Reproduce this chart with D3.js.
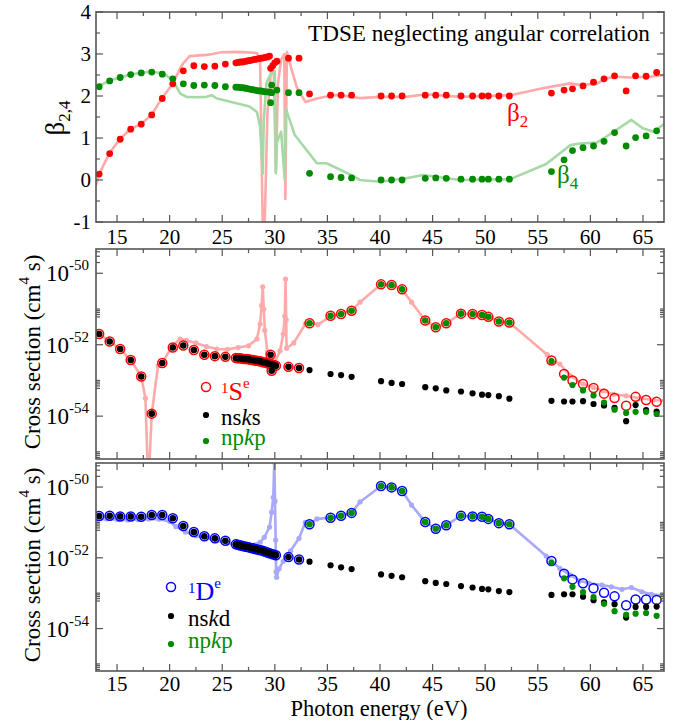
<!DOCTYPE html>
<html><head><meta charset="utf-8">
<script src="https://cdn.jsdelivr.net/npm/d3@7"></script>
<style>body{margin:0;background:#fff}svg{display:block}text{font-family:"Liberation Serif","Times New Roman",serif}</style>
</head><body><svg id="c" width="689" height="720" font-family="Liberation Serif, Times New Roman, serif"></svg>
<script>
// ---------------- DATA ----------------
const xMajorTicks = [15,20,25,30,35,40,45,50,55,60,65];
const betaTicks = [-1,0,1,2,3,4];
const logLabelExps = [-50,-52,-54];

// top panel: beta2 (red) and beta4 (green) points  [energy eV, beta]
const beta2Dots = [[13.3,0.14],[14.3,0.63],[15.3,0.97],[16.3,1.21],[17.3,1.33],[18.3,1.55],[19.3,1.94],[20.3,2.29],[21.3,2.60],[22.3,2.72],[23.3,2.70],[24.3,2.71],[25.3,2.76],
[26.3,2.79],[26.5,2.80],[26.7,2.81],[26.9,2.81],[27.1,2.82],[27.3,2.83],[27.5,2.84],[27.7,2.85],[27.9,2.86],[28.1,2.87],[28.3,2.88],[28.5,2.89],[28.7,2.90],[28.9,2.91],[29.1,2.92],[29.3,2.93],[29.5,2.95],
[29.6,2.66],[29.8,2.72],[30.0,2.79],[30.2,2.83],
[31.3,2.90],[32.3,2.90],[33.3,2.05],[35.3,2.02],[36.3,2.02],[37.3,2.02],[40.1,2.00],[41.1,2.00],[42.1,2.00],[44.3,2.02],[45.3,2.02],[46.3,2.02],[47.7,2.00],[48.8,2.00],[49.7,2.00],[50.3,2.00],[51.3,2.00],[52.3,2.00],
[56.3,2.07],[57.5,2.14],[58.3,2.17],[59.3,2.24],[60.3,2.33],[61.3,2.41],[62.3,2.48],[63.4,2.12],[64.3,2.48],[65.3,2.47],[66.3,2.56]];
const beta4Dots = [[13.3,2.22],[14.3,2.36],[15.3,2.44],[16.3,2.51],[17.3,2.55],[18.3,2.57],[19.3,2.52],[20.3,2.41],[21.3,2.29],[22.3,2.25],[23.3,2.26],[24.3,2.25],[25.3,2.22],
[26.3,2.21],[26.5,2.21],[26.7,2.20],[26.9,2.20],[27.1,2.19],[27.3,2.18],[27.5,2.17],[27.7,2.16],[27.9,2.15],[28.1,2.14],[28.3,2.13],[28.5,2.12],[28.7,2.12],[28.9,2.11],[29.1,2.10],[29.3,2.10],[29.5,2.09],[29.7,2.08],
[29.6,1.84],[29.7,2.26],[30.2,2.14],
[31.3,2.08],[32.3,2.08],[33.3,0.16],[35.3,0.08],[36.3,0.06],[37.3,0.05],[40.1,0.00],[41.1,0.00],[42.1,0.00],[44.3,0.04],[45.3,0.05],[46.3,0.04],[47.7,0.02],[48.8,0.02],[49.7,0.02],[50.3,0.02],[51.3,0.02],[52.3,0.02],
[56.3,0.20],[57.5,0.48],[58.3,0.70],[59.3,0.77],[60.3,0.81],[61.3,0.92],[62.3,1.13],[63.4,0.81],[64.3,1.01],[65.3,1.05],[66.3,1.17]];
const beta2Curve = [[13.0,-0.12],[13.3,0.14],[14.3,0.65],[15.3,0.98],[16.3,1.22],[17.3,1.33],[18.3,1.56],[19.3,1.96],[20.3,2.29],[21.0,2.66],[21.3,2.78],[21.9,2.95],[23.5,2.98],[24.1,3.00],[24.9,3.04],[26.5,3.05],[28.0,3.03],[28.3,3.02],[28.6,2.86],[28.88,-1.6],[28.98,-1.6],[29.3,1.6],[29.6,2.5],[29.9,2.6],[30.1,0.2],[30.3,2.3],[30.6,2.86],[30.9,3.0],[31.0,-0.45],[31.15,3.05],[31.4,2.8],[32.1,2.2],[32.9,1.86],[34.0,1.94],[35.5,2.02],[36.2,2.02],[38.1,1.95],[40.0,1.98],[42.5,1.98],[44.4,2.04],[47.6,1.98],[52.4,2.02],[55.8,2.20],[58.1,2.30],[59.0,2.26],[60.6,2.29],[61.5,2.42],[62.5,2.46],[63.8,2.44],[65.7,2.46],[67.0,2.50]];
const beta4Curve = [[13.0,2.20],[14.3,2.37],[15.3,2.44],[16.3,2.51],[17.3,2.55],[18.1,2.58],[19.4,2.54],[20.3,2.38],[21.0,2.06],[21.6,1.98],[22.6,1.97],[23.5,1.98],[24.0,2.02],[24.5,1.94],[27.6,1.75],[28.3,1.62],[28.6,1.27],[28.85,0.15],[28.95,1.4],[29.2,2.3],[29.7,2.58],[30.0,2.58],[30.1,0.16],[30.2,0.9],[30.6,1.15],[30.95,0.0],[31.05,1.7],[31.9,1.07],[34.0,0.40],[34.9,0.40],[37.1,0.14],[38.1,0.00],[40.0,-0.04],[42.5,0.04],[44.1,0.12],[47.6,0.00],[52.4,0.02],[55.8,0.38],[58.1,0.83],[59.0,0.87],[60.6,0.89],[61.5,1.03],[63.9,1.43],[65.0,1.23],[66.0,1.15],[67.0,1.33]];

// middle panel (1Se), log10 of cross section (cm^4 s)
const seNsks = [[13.3,-51.70],[14.3,-51.91],[15.3,-52.12],[16.3,-52.43],[17.3,-52.89],[18.3,-53.93],[19.3,-52.51],[20.3,-52.08],[21.3,-52.02],[22.3,-52.15],[23.3,-52.28],[24.3,-52.32],[25.3,-52.34],
[26.3,-52.37],[26.5,-52.38],[26.7,-52.38],[26.9,-52.39],[27.1,-52.40],[27.3,-52.40],[27.5,-52.41],[27.7,-52.42],[27.9,-52.43],[28.1,-52.44],[28.3,-52.45],[28.5,-52.46],[28.7,-52.47],[28.9,-52.49],[29.1,-52.50],[29.3,-52.52],[29.5,-52.54],[29.7,-52.55],[29.9,-52.57],
[29.6,-52.28],[29.7,-52.73],[30.1,-52.59],[31.3,-52.62],[32.3,-52.65],
[33.3,-52.71],[35.3,-52.82],[36.3,-52.85],[37.3,-52.90],[40.1,-53.02],[41.1,-53.07],[42.1,-53.10],[44.3,-53.19],[45.3,-53.22],[46.3,-53.28],[47.7,-53.31],[48.8,-53.36],[49.7,-53.40],[50.3,-53.41],[51.3,-53.44],[52.3,-53.51],
[56.3,-53.57],[57.5,-53.59],[58.3,-53.59],[59.3,-53.58],[60.3,-53.66],[61.3,-53.70],[62.3,-53.77],[63.4,-54.14],[64.3,-53.69],[65.3,-53.83],[66.3,-53.87]];
const seNpkp = [[33.3,-51.40],[35.3,-51.19],[36.3,-51.14],[37.3,-51.05],[40.1,-50.31],[41.1,-50.33],[42.1,-50.45],[44.3,-51.32],[45.3,-51.51],[46.3,-51.40],[47.7,-51.13],[48.8,-51.14],[49.7,-51.17],[50.3,-51.22],[51.3,-51.35],[52.3,-51.38],
[56.3,-52.46],[57.5,-52.92],[58.3,-53.13],[59.3,-53.28],[60.3,-53.42],[61.3,-53.62],[62.3,-53.82],[63.4,-53.91],[64.3,-53.88],[65.3,-53.88],[66.3,-53.94]];
const seTotalTail = [[56.3,-52.44],[57.5,-52.82],[58.3,-53.00],[59.3,-53.10],[60.3,-53.21],[61.3,-53.37],[62.3,-53.49],[63.4,-53.71],[64.3,-53.46],[65.3,-53.55],[66.3,-53.60]];
const seCurve = [[13.0,-51.65],[13.3,-51.70],[14.3,-51.91],[15.3,-52.12],[16.3,-52.43],[17.3,-52.89],[17.7,-53.5],[17.97,-56.0],[18.3,-53.93],[18.9,-52.59],[19.3,-52.51],[20.3,-52.02],[21.0,-51.84],[21.6,-51.88],[22.5,-51.95],[23.5,-52.05],[24.5,-52.12],[25.5,-52.13],[26.5,-52.08],[27.5,-52.03],[28.3,-51.84],[28.6,-51.42],[28.75,-50.9],[28.85,-50.38],[28.95,-51.0],[29.05,-51.6],[29.3,-52.2],[29.6,-52.45],[30.0,-52.50],[30.5,-52.17],[30.8,-51.70],[30.95,-51.2],[31.02,-50.16],[31.08,-51.3],[31.12,-52.1],[31.8,-51.95],[32.9,-51.42],[33.3,-51.38],[34.1,-51.44],[35.3,-51.20],[36.3,-51.12],[37.3,-51.05],[38.1,-50.81],[40.1,-50.31],[41.1,-50.33],[42.1,-50.45],[43.0,-50.81],[44.3,-51.32],[45.3,-51.51],[46.3,-51.40],[47.7,-51.13],[48.8,-51.14],[49.7,-51.17],[50.3,-51.22],[51.3,-51.35],[52.3,-51.38],[55.9,-52.28],[56.3,-52.44],[57.1,-52.54],[58.1,-52.87],[59.3,-53.10],[60.3,-53.20],[61.2,-53.29],[62.2,-53.39],[63.4,-53.43],[64.7,-53.50],[66.0,-53.55],[67.1,-53.57]];

// bottom panel (1De), log10 of cross section (cm^4 s)
const deNskd = [[13.3,-50.82],[14.3,-50.81],[15.3,-50.83],[16.3,-50.83],[17.3,-50.84],[18.3,-50.79],[19.3,-50.79],[20.3,-50.88],[21.3,-51.10],[22.3,-51.27],[23.3,-51.39],[24.3,-51.45],[25.3,-51.52],
[26.3,-51.62],[26.5,-51.63],[26.7,-51.65],[26.9,-51.66],[27.1,-51.68],[27.3,-51.69],[27.5,-51.70],[27.7,-51.72],[27.9,-51.73],[28.1,-51.75],[28.3,-51.76],[28.5,-51.78],[28.7,-51.79],[28.9,-51.81],[29.1,-51.83],[29.3,-51.85],[29.5,-51.87],[29.7,-51.89],[29.9,-51.91],[30.1,-51.93],
[31.3,-51.98],[32.3,-52.05],
[33.3,-52.11],[35.3,-52.21],[36.3,-52.27],[37.3,-52.32],[40.1,-52.47],[41.1,-52.51],[42.1,-52.55],[44.3,-52.66],[45.3,-52.71],[46.3,-52.74],[47.7,-52.80],[48.8,-52.84],[49.7,-52.88],[50.3,-52.89],[51.3,-52.94],[52.3,-52.97],
[56.3,-53.05],[57.5,-53.03],[58.3,-53.03],[59.3,-53.10],[60.3,-53.20],[61.3,-53.26],[62.3,-53.31],[63.4,-53.69],[64.3,-53.39],[65.3,-53.39],[66.3,-53.38]];
const deNpkp = [[33.3,-51.05],[35.3,-50.87],[36.3,-50.81],[37.3,-50.73],[40.1,-49.97],[41.1,-50.01],[42.1,-50.11],[44.3,-50.99],[45.3,-51.18],[46.3,-51.08],[47.7,-50.81],[48.8,-50.83],[49.7,-50.84],[50.3,-50.90],[51.3,-51.02],[52.3,-51.05],
[56.3,-52.14],[57.5,-52.58],[58.3,-52.82],[59.3,-52.97],[60.3,-53.11],[61.3,-53.30],[62.3,-53.51],[63.4,-53.61],[64.3,-53.58],[65.3,-53.56],[66.3,-53.64]];
const deTotalTail = [[56.3,-52.09],[57.5,-52.45],[58.3,-52.61],[59.3,-52.72],[60.3,-52.86],[61.3,-52.99],[62.3,-53.09],[63.4,-53.34],[64.3,-53.18],[65.3,-53.18],[66.3,-53.19]];
const deCurve = [[13.0,-50.92],[14.0,-50.90],[15.0,-50.92],[16.0,-50.93],[17.0,-50.92],[18.0,-50.90],[19.0,-50.91],[20.0,-50.97],[20.6,-51.12],[21.5,-51.27],[22.5,-51.38],[23.5,-51.45],[24.5,-51.52],[25.5,-51.58],[26.5,-51.64],[27.6,-51.65],[28.6,-51.56],[29.0,-51.42],[29.5,-51.13],[29.7,-50.71],[29.85,-50.29],[29.95,-49.3],[30.02,-50.4],[30.08,-51.5],[30.12,-52.40],[30.17,-52.55],[30.4,-52.31],[30.8,-52.10],[31.5,-51.80],[32.3,-51.45],[32.9,-51.00],[33.3,-51.05],[34.0,-50.90],[35.3,-50.87],[36.3,-50.81],[37.3,-50.73],[38.1,-50.42],[40.1,-49.97],[41.1,-50.01],[42.1,-50.11],[43.0,-50.51],[44.3,-50.99],[45.3,-51.18],[46.3,-51.08],[47.7,-50.81],[48.8,-50.83],[49.7,-50.84],[50.3,-50.90],[51.3,-51.02],[52.3,-51.05],[55.8,-51.95],[56.3,-52.09],[57.1,-52.30],[58.1,-52.49],[59.0,-52.65],[59.9,-52.72],[61.1,-52.77],[62.0,-52.82],[63.0,-52.89],[63.9,-52.84],[64.9,-52.96],[65.8,-53.03],[67.1,-53.07]];

// ---------------- DRAW ----------------
const svg = d3.select("#c");
const RED="#ff0000", GREEN="#008b00", BLUE="#0000ff";
const PRED="#ffaaaa", PGREEN="#a6d9a6", PBLUE="#a9a9fa";
const FRAME="#555";
const L=96, R=664;
const x = d3.scaleLinear().domain([13,67]).range([L,R]);
const logDom = [Math.pow(10,-55.2), Math.pow(10,-49.32)];
const P1 = {top:12, bottom:222, y:d3.scaleLinear().domain([-1,4]).range([222,12])};
const P2 = {top:249, bottom:459, y:d3.scaleLog().domain(logDom).range([459,249])};
const P3 = {top:463, bottom:671, y:d3.scaleLog().domain(logDom).range([671,463])};
const pw = v => Math.pow(10,v);

[P1,P2,P3].forEach((p,i)=>{
  svg.append("clipPath").attr("id","clip"+i).append("rect")
    .attr("x",L).attr("y",p.top).attr("width",R-L).attr("height",p.bottom-p.top);
  p.g = svg.append("g").attr("clip-path","url(#clip"+i+")");
});

function curve(p, data, color, isLog, markers){
  const line = d3.line().x(d=>x(d[0])).y(d=>p.y(isLog?pw(d[1]):d[1]));
  p.g.append("path").datum(data).attr("d",line).attr("fill","none")
    .attr("stroke",color).attr("stroke-width",2.6).attr("stroke-linejoin","round");
  if(markers){
    p.g.selectAll(null).data(data).enter().append("circle")
      .attr("cx",d=>x(d[0])).attr("cy",d=>p.y(pw(d[1]))).attr("r",2.6).attr("fill",color);
  }
}
function dots(p, data, color, r, isLog){
  p.g.selectAll(null).data(data).enter().append("circle")
    .attr("cx",d=>x(d[0])).attr("cy",d=>p.y(isLog?pw(d[1]):d[1])).attr("r",r).attr("fill",color);
}
function rings(p, data, color){
  p.g.selectAll(null).data(data).enter().append("circle")
    .attr("cx",d=>x(d[0])).attr("cy",d=>p.y(pw(d[1]))).attr("r",4.5)
    .attr("fill","none").attr("stroke",color).attr("stroke-width",1.5);
}

// Panel 1
curve(P1, beta2Curve, PRED, false, false);
curve(P1, beta4Curve, PGREEN, false, false);
dots(P1, beta2Dots, RED, 3.4, false);
dots(P1, beta4Dots, GREEN, 3.4, false);

// Panel 2
curve(P2, seCurve, PRED, true, true);
const seRings = seNsks.filter(d=>d[0]<33).concat(seNpkp.filter(d=>d[0]<53), seTotalTail);
rings(P2, seRings, RED);
dots(P2, seNsks.filter(d=>d[0]<33), "#000", 3.3, true);
dots(P2, seNsks.filter(d=>d[0]>33), "#000", 3.1, true);
dots(P2, seNpkp.filter(d=>d[0]<53), GREEN, 3.3, true);
dots(P2, seNpkp.filter(d=>d[0]>53), GREEN, 3.1, true);

// Panel 3
curve(P3, deCurve, PBLUE, true, true);
const deRings = deNskd.filter(d=>d[0]<33).concat(deNpkp.filter(d=>d[0]<53), deTotalTail);
rings(P3, deRings, BLUE);
dots(P3, deNskd.filter(d=>d[0]<33), "#000", 3.3, true);
dots(P3, deNskd.filter(d=>d[0]>33), "#000", 3.1, true);
dots(P3, deNpkp.filter(d=>d[0]<53), GREEN, 3.3, true);
dots(P3, deNpkp.filter(d=>d[0]>53), GREEN, 3.1, true);

// Frames and ticks
const xMinor = xMajorTicks.map(v=>v+2.5).filter(v=>v<67);
function tick(g,x1,y1,x2,y2){ g.append("line").attr("x1",x1).attr("y1",y1).attr("x2",x2).attr("y2",y2).attr("stroke",FRAME).attr("stroke-width",1.2); }
function frame(p, yMajor, yMinor){
  const g = svg.append("g");
  g.append("rect").attr("x",L).attr("y",p.top).attr("width",R-L).attr("height",p.bottom-p.top)
    .attr("fill","none").attr("stroke",FRAME).attr("stroke-width",1.6);
  xMajorTicks.forEach(v=>{ tick(g,x(v),p.bottom,x(v),p.bottom-7); tick(g,x(v),p.top,x(v),p.top+7); });
  xMinor.forEach(v=>{ tick(g,x(v),p.bottom,x(v),p.bottom-4); tick(g,x(v),p.top,x(v),p.top+4); });
  yMajor.forEach(v=>{ const yy=p.y(v); tick(g,L,yy,L+7,yy); tick(g,R,yy,R-7,yy); });
  yMinor.forEach(v=>{ const yy=p.y(v); tick(g,L,yy,L+4,yy); tick(g,R,yy,R-4,yy); });
}
frame(P1, betaTicks, [-0.5,0.5,1.5,2.5,3.5]);
const logMajor = logLabelExps.map(pw);
const logMinor = [2e-50,3e-50,4e-50,6e-52,7e-52,8e-52,9e-52,1e-51,6e-54,7e-54,8e-54,9e-54,1e-53,7e-56,8e-56,9e-56,1e-55]
  .filter(v=>v>logDom[0]&&v<logDom[1]);
frame(P2, logMajor, logMinor);
frame(P3, logMajor, logMinor);

// Tick labels
const tl = svg.append("g").attr("font-size",21).attr("fill","#000");
xMajorTicks.forEach(v=>{
  tl.append("text").attr("x",x(v)).attr("y",244).attr("text-anchor","middle").text(v);
  tl.append("text").attr("x",x(v)).attr("y",691).attr("text-anchor","middle").text(v);
});
betaTicks.forEach(v=>{
  tl.append("text").attr("x",91).attr("y",P1.y(v)+7).attr("text-anchor","end").text(v);
});
[P2,P3].forEach(p=>{
  logLabelExps.forEach(e=>{
    const t = svg.append("text").attr("x",89).attr("y",p.y(pw(e))+8).attr("text-anchor","end").attr("font-size",23);
    t.append("tspan").text("10");
    t.append("tspan").attr("font-size",15).attr("dy",-11).text(e);
  });
});

// Axis titles
const bt = svg.append("text").attr("transform","translate(64,118) rotate(-90)").attr("text-anchor","middle").attr("font-size",27);
bt.append("tspan").text("β");
bt.append("tspan").attr("font-size",17).attr("dy",6).text("2,4");
[[P2,352],[P3,565]].forEach(([p,cy])=>{
  const t = svg.append("text").attr("transform",`translate(40,${cy}) rotate(-90)`).attr("text-anchor","middle").attr("font-size",23);
  t.append("tspan").text("Cross section (cm");
  t.append("tspan").attr("font-size",15).attr("dy",-11).text("4");
  t.append("tspan").attr("dy",11).text(" s)");
});
svg.append("text").attr("x",379).attr("y",716).attr("text-anchor","middle").attr("font-size",22.5).text("Photon energy (eV)");

// Annotations
svg.append("text").attr("x",308).attr("y",41).attr("font-size",23.2).text("TDSE neglecting angular correlation");
const b2 = svg.append("text").attr("x",507).attr("y",121).attr("font-size",25).attr("fill",RED);
b2.append("tspan").text("β"); b2.append("tspan").attr("font-size",17).attr("dy",6).text("2");
const b4 = svg.append("text").attr("x",557).attr("y",183).attr("font-size",25).attr("fill",GREEN);
b4.append("tspan").text("β"); b4.append("tspan").attr("font-size",17).attr("dy",6).text("4");

// Legends
function legend(cx, ringY, ringColor, letter, tx, ty1, ty2, ty3, label2){
  svg.append("circle").attr("cx",cx).attr("cy",ringY).attr("r",4.5).attr("fill","none").attr("stroke",ringColor).attr("stroke-width",1.5);
  const t = svg.append("text").attr("x",tx).attr("y",ty1).attr("font-size",26).attr("fill",ringColor);
  t.append("tspan").attr("font-size",15).attr("dy",-7).text("1");
  t.append("tspan").attr("dy",7).text(letter);
  t.append("tspan").attr("font-size",15).attr("dy",-12).text("e");
  svg.append("circle").attr("cx",cx).attr("cy",ty2-10).attr("r",3.1).attr("fill","#000");
  const t2 = svg.append("text").attr("x",tx).attr("y",ty2).attr("font-size",23).attr("fill","#000");
  t2.append("tspan").text("ns"); t2.append("tspan").attr("font-style","italic").text("k"); t2.append("tspan").text(label2);
  svg.append("circle").attr("cx",cx).attr("cy",ty3-4).attr("r",3.1).attr("fill",GREEN);
  const t3 = svg.append("text").attr("x",tx).attr("y",ty3).attr("font-size",23).attr("fill",GREEN);
  t3.append("tspan").text("np"); t3.append("tspan").attr("font-style","italic").text("k"); t3.append("tspan").text("p");
}
legend(206, 387, RED, "S", 221, 400, 425, 445, "s");
legend(171, 587, BLUE, "D", 188, 600, 626, 648, "d");
</script></body></html>
